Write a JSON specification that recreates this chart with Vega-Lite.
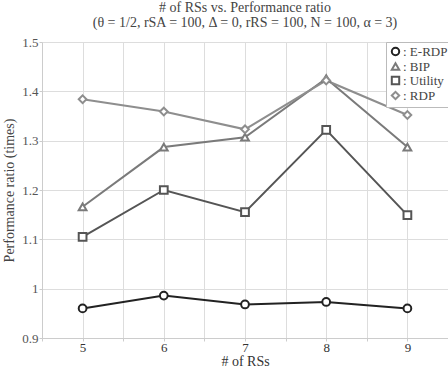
{
  "$schema": "https://vega.github.io/schema/vega-lite/v6.json",
  "autosize": {"type": "none"},
  "width": 406,
  "height": 296,
  "padding": {"left": 42, "top": 42, "right": 0, "bottom": 30},
  "background": "white",
  "config": {
    "font": "Times New Roman, Liberation Serif, serif",
    "view": {"stroke": null},
    "style": {
      "guide-label": {"font": "Times New Roman, Liberation Serif, serif"},
      "guide-title": {"font": "Times New Roman, Liberation Serif, serif"}
    }
  },
  "title": {
    "text": "# of RSs vs. Performance ratio",
    "subtitle": "(θ = 1/2, rSA = 100, Δ = 0, rRS = 100, N = 100, α = 3)",
    "fontSize": 14,
    "fontWeight": "normal",
    "subtitleFontSize": 14,
    "color": "#444",
    "subtitleColor": "#444",
    "anchor": "middle",
    "offset": 6,
    "subtitlePadding": 1
  },
  "data": {
    "values": [
      {"n": 5, "ratio": 0.960, "method": "E-RDP"},
      {"n": 6, "ratio": 0.986, "method": "E-RDP"},
      {"n": 7, "ratio": 0.968, "method": "E-RDP"},
      {"n": 8, "ratio": 0.973, "method": "E-RDP"},
      {"n": 9, "ratio": 0.960, "method": "E-RDP"},
      {"n": 5, "ratio": 1.166, "method": "BIP"},
      {"n": 6, "ratio": 1.287, "method": "BIP"},
      {"n": 7, "ratio": 1.307, "method": "BIP"},
      {"n": 8, "ratio": 1.426, "method": "BIP"},
      {"n": 9, "ratio": 1.287, "method": "BIP"},
      {"n": 5, "ratio": 1.105, "method": "Utility"},
      {"n": 6, "ratio": 1.200, "method": "Utility"},
      {"n": 7, "ratio": 1.155, "method": "Utility"},
      {"n": 8, "ratio": 1.322, "method": "Utility"},
      {"n": 9, "ratio": 1.149, "method": "Utility"},
      {"n": 5, "ratio": 1.384, "method": "RDP"},
      {"n": 6, "ratio": 1.359, "method": "RDP"},
      {"n": 7, "ratio": 1.323, "method": "RDP"},
      {"n": 8, "ratio": 1.422, "method": "RDP"},
      {"n": 9, "ratio": 1.352, "method": "RDP"}
    ]
  },
  "encoding": {
    "x": {
      "field": "n",
      "type": "quantitative",
      "scale": {"domain": [4.5, 9.5], "nice": false, "zero": false},
      "axis": {
        "title": "# of RSs",
        "values": [4.5, 5, 5.5, 6, 6.5, 7, 7.5, 8, 8.5, 9, 9.5],
        "format": "~g",
        "labelExpr": "datum.value % 1 == 0 ? datum.label : ''",
        "labelFont": "serif",
        "titleFont": "serif",
        "labelFontSize": 13,
        "titleFontSize": 14,
        "titleFontWeight": "normal",
        "labelColor": "#333",
        "titleColor": "#333",
        "domainColor": "#ccc",
        "tickColor": "#ccc",
        "tickSize": 3,
        "labelPadding": 0,
        "gridColor": "#ddd",
        "titlePadding": 0
      }
    },
    "y": {
      "field": "ratio",
      "type": "quantitative",
      "scale": {"domain": [0.9, 1.5], "nice": false, "zero": false},
      "axis": {
        "title": "Performance ratio (times)",
        "values": [0.9, 1.0, 1.1, 1.2, 1.3, 1.4, 1.5],
        "format": ".1~f",
        "labelFont": "serif",
        "titleFont": "serif",
        "labelFontSize": 13,
        "titleFontSize": 14,
        "titleFontWeight": "normal",
        "labelColor": "#555",
        "titleColor": "#444",
        "domainColor": "#ccc",
        "tickColor": "#ccc",
        "tickSize": 3,
        "labelPadding": 1,
        "gridColor": "#ddd",
        "titlePadding": 5
      }
    },
    "color": {
      "field": "method",
      "type": "nominal",
      "scale": {
        "domain": ["E-RDP", "BIP", "Utility", "RDP"],
        "range": ["#222222", "#7a7a7a", "#555555", "#8e8e8e"]
      },
      "legend": {
        "title": null,
        "orient": "none",
        "legendX": 344,
        "legendY": 0,
        "labelExpr": "': ' + datum.label",
        "labelFont": "serif",
        "labelFontSize": 13,
        "labelColor": "#444",
        "fillColor": "white",
        "strokeColor": "#bbb",
        "padding": 3,
        "rowPadding": -3,
        "symbolSize": 55,
        "symbolStrokeWidth": 2,
        "symbolFillColor": "white",
        "labelOffset": 1
      }
    }
  },
  "layer": [
    {
      "mark": {"type": "line", "strokeWidth": 2},
      "encoding": {"detail": {"field": "method"}}
    },
    {
      "mark": {"type": "point", "filled": false, "fill": "white", "fillOpacity": 1, "strokeWidth": 2, "size": 60, "opacity": 1},
      "encoding": {
        "shape": {
          "field": "method",
          "type": "nominal",
          "scale": {
            "domain": ["E-RDP", "BIP", "Utility", "RDP"],
            "range": ["circle", "triangle-up", "square", "diamond"]
          },
          "legend": {
            "title": null,
            "orient": "none",
            "legendX": 344,
            "legendY": 0,
            "labelExpr": "': ' + datum.label",
            "labelFont": "serif",
            "labelFontSize": 13,
            "labelColor": "#444",
            "fillColor": "white",
            "strokeColor": "#bbb",
            "padding": 3,
            "rowPadding": -3,
            "symbolSize": 55,
            "symbolStrokeWidth": 2,
            "symbolFillColor": "white",
            "labelOffset": 1
          }
        }
      }
    }
  ]
}
